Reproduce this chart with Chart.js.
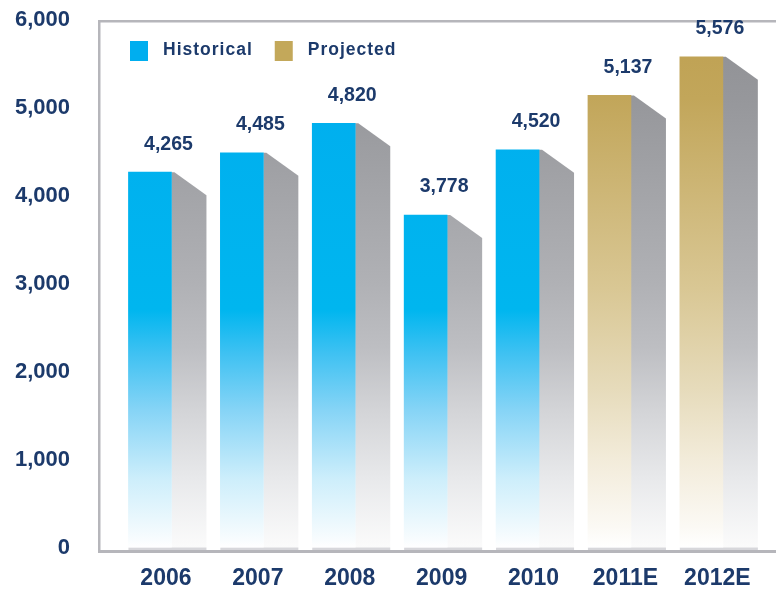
<!DOCTYPE html>
<html><head><meta charset="utf-8">
<script src="https://cdn.jsdelivr.net/npm/chart.js@4.4.0/dist/chart.umd.min.js"></script>
<style>html,body{margin:0;padding:0;background:#fff;}canvas{display:block;}</style>
</head><body>
<canvas id="c" width="776" height="592"></canvas>
<script>
// ---- data ----
const categories = ['2006', '2007', '2008', '2009', '2010', '2011E', '2012E'];
const historical = [4265, 4485, 4820, 3778, 4520, null, null];
const projected  = [null, null, null, null, null, 5137, 5576];
const seriesNames = ['Historical', 'Projected'];
const yMin = 0, yMax = 6000, yStep = 1000;

// ---- style ----
const NAVY = '#1c3a6b';
const FONT = '"Liberation Sans", Arial, Helvetica, sans-serif';
const SHADOW_W = 35, SHADOW_DROP = 23;
const blueStops = [[0,'#00acee'],[0.55,'#00b6ef'],[0.63,'#3dc1f2'],[0.74,'#86d4f6'],[0.87,'#cdeefb'],[0.985,'#f8fcfe'],[1,'#ffffff']];
const goldStops = [[0,'#bea051'],[0.15,'#c2a65a'],[0.51,'#d9c794'],[0.70,'#e6dbbb'],[0.83,'#f2ebd9'],[0.96,'#fbf9f4'],[1,'#ffffff']];
const grayStops = [[0,'#8f9094'],[0.15,'#96979b'],[0.5,'#b0b1b5'],[0.62,'#bdbec2'],[0.74,'#d3d4d7'],[0.87,'#e8e9eb'],[1,'#fbfbfb']];

function vGrad(chart, stops, fallback) {
  const a = chart.chartArea;
  if (!a) return fallback;
  const g = chart.ctx.createLinearGradient(0, a.top, 0, a.bottom);
  stops.forEach(s => g.addColorStop(s[0], s[1]));
  return g;
}

const framePlugin = {
  id: 'frame',
  beforeDatasetsDraw(chart) {
    const { ctx, chartArea: a, width } = chart;
    const L = a.left - 6;
    ctx.save();
    ctx.fillStyle = '#b6b6bb';
    ctx.fillRect(L, a.top + 0.5, width - L, 2.5);
    ctx.fillRect(L, a.top + 0.5, 2.5, a.bottom + 5.5 - a.top - 0.5);
    ctx.fillRect(L, a.bottom + 2.5, width - L, 3);
    ctx.restore();
  }
};

const shadowPlugin = {
  id: 'shadow',
  beforeDatasetsDraw(chart) {
    const { ctx } = chart;
    const gray = vGrad(chart, grayStops, '#aaa');
    ctx.save();
    chart.data.datasets.forEach((ds, di) => {
      const meta = chart.getDatasetMeta(di);
      meta.data.forEach((el, i) => {
        if (ds.data[i] == null) return;
        const p = el.getProps(['x', 'y', 'base', 'width'], true);
        const R = p.x + p.width / 2;
        ctx.fillStyle = gray;
        ctx.beginPath();
        ctx.moveTo(R, p.y);
        ctx.lineTo(R + 3, p.y);
        ctx.lineTo(R + SHADOW_W, p.y + SHADOW_DROP);
        ctx.lineTo(R + SHADOW_W, p.base);
        ctx.lineTo(R, p.base);
        ctx.closePath();
        ctx.fill();
        ctx.fillStyle = '#d7d7db';
        ctx.fillRect(p.x - p.width / 2, p.base, p.width + SHADOW_W, 2.5);
      });
    });
    ctx.restore();
  }
};

const valuePlugin = {
  id: 'values',
  afterDatasetsDraw(chart) {
    const { ctx } = chart;
    ctx.save();
    ctx.font = 'bold 19.5px ' + FONT;
    ctx.fillStyle = NAVY;
    ctx.textAlign = 'center';
    ctx.textBaseline = 'middle';
    chart.data.datasets.forEach((ds, di) => {
      const meta = chart.getDatasetMeta(di);
      meta.data.forEach((el, i) => {
        const v = ds.data[i];
        if (v == null) return;
        const p = el.getProps(['x', 'y', 'width'], true);
        ctx.fillText(v.toLocaleString('en-US'), p.x + SHADOW_W / 2 + 1, p.y - 28);
      });
    });
    ctx.restore();
  }
};

const legendPlugin = {
  id: 'customLegend',
  afterDraw(chart) {
    const { ctx, chartArea: a } = chart;
    ctx.save();
    ctx.font = 'bold 17.5px ' + FONT;
    try { ctx.letterSpacing = '1px'; } catch (e) {}
    ctx.textBaseline = 'middle';
    ctx.textAlign = 'left';
    let x = a.left + 26;
    const y = a.top + 21.5;
    chart.data.datasets.forEach(ds => {
      ctx.fillStyle = ds.legendColor;
      ctx.fillRect(x, y, 18, 20);
      ctx.fillStyle = NAVY;
      ctx.fillText(ds.label, x + 33, y + 9);
      x += 33 + ctx.measureText(ds.label).width + 22;
    });
    ctx.restore();
  }
};

new Chart(document.getElementById('c'), {
  type: 'bar',
  data: {
    labels: categories,
    datasets: [
      { label: seriesNames[0], data: historical, legendColor: '#00aeef',
        backgroundColor: c => vGrad(c.chart, blueStops, '#00aeef') },
      { label: seriesNames[1], data: projected, legendColor: '#c3a85a',
        backgroundColor: c => vGrad(c.chart, goldStops, '#c3a85a') }
    ]
  },
  options: {
    responsive: false,
    animation: false,
    datasets: { bar: { grouped: false, barThickness: 43, borderWidth: 0 } },
    layout: { padding: { top: 19.5, right: 28.7, bottom: 0, left: 0 } },
    plugins: { legend: { display: false }, tooltip: { enabled: false } },
    scales: {
      x: {
        grid: { display: false, drawTicks: false },
        border: { display: false },
        ticks: { font: { family: FONT, size: 23, weight: 'bold' }, color: NAVY,
                 padding: 17, labelOffset: 16, maxRotation: 0, autoSkip: false },
        afterFit: s => { s.height = 44.5; s.paddingLeft = 0; s.paddingRight = 0; }
      },
      y: {
        min: yMin, max: yMax,
        grid: { display: false, drawTicks: false },
        border: { display: false },
        ticks: { stepSize: yStep, padding: 34, font: { family: FONT, size: 22, weight: 'bold' },
                 color: NAVY, callback: v => v.toLocaleString('en-US') },
        afterFit: s => { s.width = 104; s.paddingTop = 0; s.paddingBottom = 0; }
      }
    }
  },
  plugins: [framePlugin, shadowPlugin, valuePlugin, legendPlugin]
});
</script>
</body></html>
